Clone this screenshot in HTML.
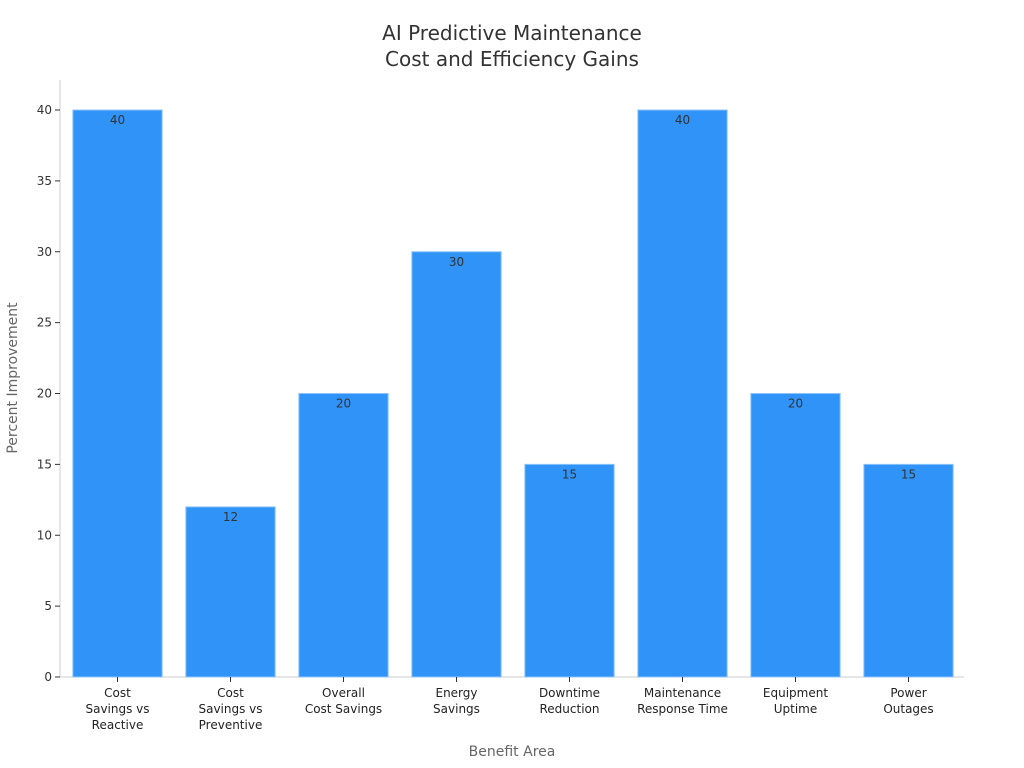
<!DOCTYPE html>
<html><head><meta charset="utf-8"><style>
body{margin:0;background:#fff;}
svg{display:block;font-family:"DejaVu Sans","Liberation Sans",sans-serif;}
</style></head><body>
<svg id="chart" width="1024" height="768" viewBox="0 0 1024 768">
<text x="512" y="40" text-anchor="middle" font-size="20" fill="#333">AI Predictive Maintenance</text>
<text x="512" y="66" text-anchor="middle" font-size="20" fill="#333">Cost and Efficiency Gains</text>
<text transform="translate(17,378) rotate(-90)" text-anchor="middle" font-size="14" fill="#666">Percent Improvement</text>
<text x="512" y="756" text-anchor="middle" font-size="14" fill="#666">Benefit Area</text>
<g id="g"></g>
</svg>
<script>
const categories=[["Cost","Savings vs","Reactive"],["Cost","Savings vs","Preventive"],["Overall","Cost Savings"],["Energy","Savings"],["Downtime","Reduction"],["Maintenance","Response Time"],["Equipment","Uptime"],["Power","Outages"]];
const values=[40,12,20,30,15,40,20,15];
const yTicks=[0,5,10,15,20,25,30,35,40];
const NS="http://www.w3.org/2000/svg";
const g=document.getElementById('g');
const x0=60,x1=964,yBase=677,yTop=110,yMax=40;
const band=(x1-x0)/categories.length;
const y=v=>yBase-(v/yMax)*(yBase-yTop);
const xc=i=>x0+1+band*(i+0.5);
function mk(t,a){const e=document.createElementNS(NS,t);for(const k in a)e.setAttribute(k,a[k]);g.appendChild(e);return e;}
let e=mk('line',{x1:x0,y1:80,x2:x0,y2:yBase,stroke:'#ccc'});


e=mk('line',{x1:x0,y1:yBase,x2:x1,y2:yBase,stroke:'#ccc'});


yTicks.forEach(t=>{
 const l=mk('line',{x1:x0-5,y1:y(t),x2:x0,y2:y(t),stroke:'#333'});
 
 
 const tx=mk('text',{x:x0-8,y:y(t)+4,'text-anchor':'end','font-size':12,fill:'#333'});
 tx.textContent=t;
 
 
});
const bw=band*0.79;
values.forEach((v,i)=>{
 const r=mk('rect',{x:xc(i)-bw/2,y:y(v),width:bw,height:yBase-y(v),fill:'#2f93f8',stroke:'#8cc4fb','stroke-width':1});
 
 
 const t=mk('text',{x:xc(i),y:y(v)+14,'text-anchor':'middle','font-size':12,fill:'#333'});
 t.textContent=v;
 
 
 const tk=mk('line',{x1:xc(i),y1:yBase,x2:xc(i),y2:yBase+5,stroke:'#333'});
 
 
 categories[i].forEach((s,j)=>{
  const c=mk('text',{x:xc(i),y:yBase+20+j*16,'text-anchor':'middle','font-size':12,fill:'#222'});
  c.textContent=s;
  
  
 });
});
</script>
</body></html>
